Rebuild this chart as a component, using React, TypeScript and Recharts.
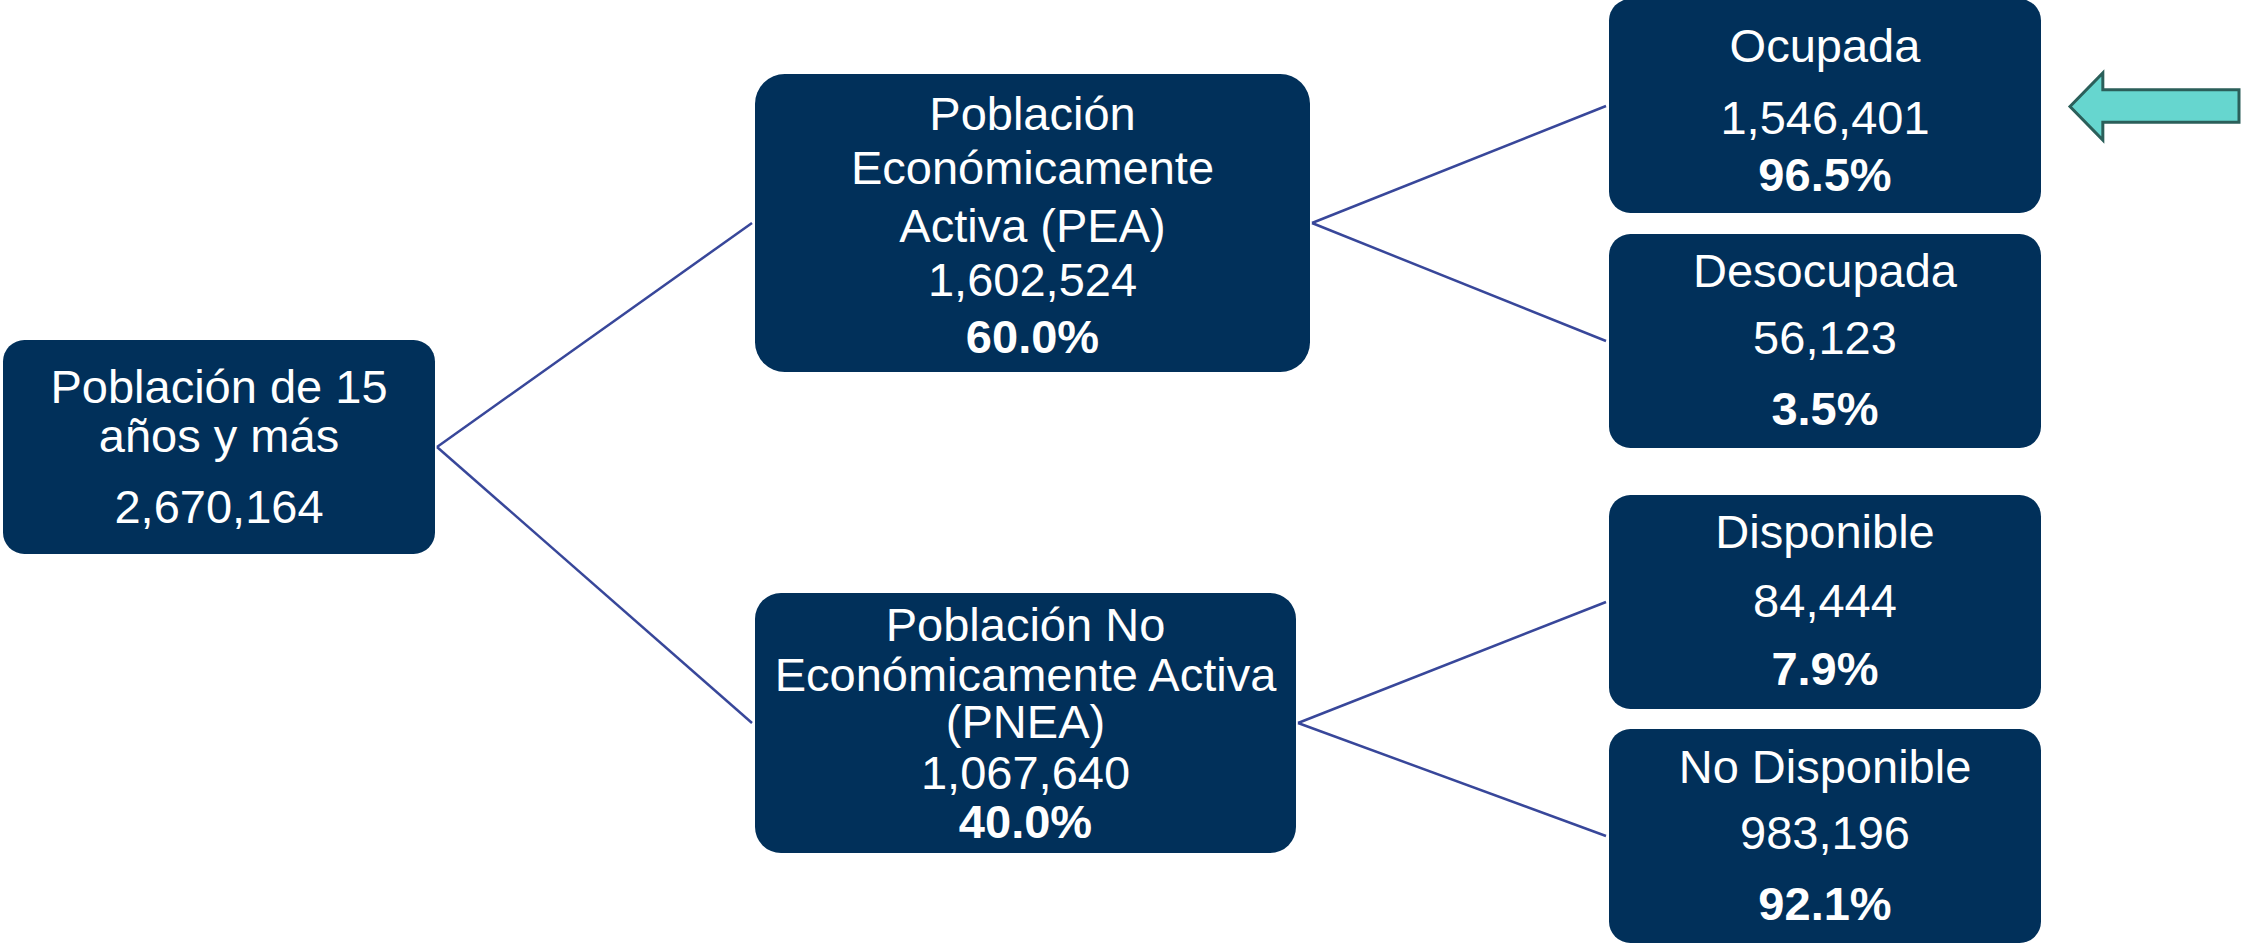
import React from 'react';
import { ScatterChart, Scatter, XAxis, YAxis, ReferenceLine, ReferenceArea } from 'recharts';

const W = 2243;
const H = 943;

// ---- data ----
const nodeTitles: string[][] = [
  ['Población de 15', 'años y más'],
  ['Población', 'Económicamente', 'Activa (PEA)'],
  ['Población No', 'Económicamente Activa', '(PNEA)'],
  ['Ocupada'],
  ['Desocupada'],
  ['Disponible'],
  ['No Disponible'],
];
const nodeValues: number[] = [2670164, 1602524, 1067640, 1546401, 56123, 84444, 983196];
const nodePercents: (number | null)[] = [null, 60.0, 40.0, 96.5, 3.5, 7.9, 92.1];
const edges: [number, number][] = [
  [0, 1],
  [0, 2],
  [1, 3],
  [1, 4],
  [2, 5],
  [2, 6],
];

// ---- layout (positions & styles only) ----
const boxLayout = [
  { x0: 3, y0: 340, x1: 435, y1: 554, lines: [46, 95, 166] },
  { x0: 755, y0: 74, x1: 1310, y1: 372, lines: [39, 93, 151, 205, 262] },
  { x0: 755, y0: 593, x1: 1296, y1: 853, lines: [31, 81, 128, 179, 228] },
  { x0: 1609, y0: -1, x1: 2041, y1: 213, lines: [46, 118, 175] },
  { x0: 1609, y0: 234, x1: 2041, y1: 448, lines: [36, 103, 174] },
  { x0: 1609, y0: 495, x1: 2041, y1: 709, lines: [36.5, 105, 173.5] },
  { x0: 1609, y0: 729, x1: 2041, y1: 943, lines: [37.5, 103.5, 174.5] },
];
const arrowBox = { x1: 2070, x2: 2239, y1: 73, y2: 140 };

const BOX_FILL = '#01305A';
const LINE_COLOR = '#38479A';
const FONT = '"Liberation Sans", Arial, Helvetica, sans-serif';
const FONT_SIZE = 47;
const CAP_HALF = FONT_SIZE * 0.716 / 2;

const nodePoints = boxLayout.map((b, i) => ({
  x: (b.x0 + b.x1) / 2,
  y: (b.y0 + b.y1) / 2,
  i,
}));

const fmt = (v: number) => v.toLocaleString('en-US');

const NodeShape = (props: any) => {
  const { cx, cy, payload } = props;
  const i = payload.i;
  const b = boxLayout[i];
  const w = b.x1 - b.x0;
  const h = b.y1 - b.y0;
  const top = cy - h / 2;
  const r = Math.min(w, h) * 0.1;
  const texts: { t: string; bold: boolean }[] = [
    ...nodeTitles[i].map((t) => ({ t, bold: false })),
    { t: fmt(nodeValues[i]), bold: false },
  ];
  const p = nodePercents[i];
  if (p !== null) texts.push({ t: `${p.toFixed(1)}%`, bold: true });
  return (
    <g>
      <rect x={cx - w / 2} y={top} width={w} height={h} rx={r} ry={r} fill={BOX_FILL} />
      {texts.map((tx, k) => (
        <text
          key={k}
          x={cx}
          y={top + b.lines[k] + CAP_HALF}
          textAnchor="middle"
          fill="#FFFFFF"
          fontFamily={FONT}
          fontSize={FONT_SIZE}
          fontWeight={tx.bold ? 700 : 400}
        >
          {tx.t}
        </text>
      ))}
    </g>
  );
};

const ArrowShape = (props: any) => {
  const x = Math.min(props.x, props.x + props.width);
  const y = Math.min(props.y, props.y + props.height);
  const w = Math.abs(props.width);
  const h = Math.abs(props.height);
  const head = h * 0.49;
  const shaftTop = y + h * 0.25;
  const shaftBot = y + h * 0.735;
  const pts = [
    [x, y + h / 2],
    [x + head, y],
    [x + head, shaftTop],
    [x + w, shaftTop],
    [x + w, shaftBot],
    [x + head, shaftBot],
    [x + head, y + h],
  ]
    .map((q) => q.join(','))
    .join(' ');
  return <polygon points={pts} fill="#66D6CF" stroke="#2B5F5A" strokeWidth={3} strokeLinejoin="miter" />;
};

export default function App() {
  return (
    <div style={{ position: 'absolute', left: 0, top: 0, width: W, height: H, background: '#FFFFFF' }}>
      <ScatterChart width={W} height={H} margin={{ top: 0, right: 0, bottom: 0, left: 0 }}>
        <XAxis type="number" dataKey="x" domain={[0, W]} hide allowDataOverflow />
        <YAxis type="number" dataKey="y" domain={[0, H]} reversed hide allowDataOverflow />
        {edges.map(([a, c], k) => {
          const pa = boxLayout[a];
          const pc = boxLayout[c];
          return (
            <ReferenceLine
              key={k}
              segment={[
                { x: pa.x1 + 2, y: (pa.y0 + pa.y1) / 2 },
                { x: pc.x0 - 3, y: (pc.y0 + pc.y1) / 2 },
              ]}
              stroke={LINE_COLOR}
              strokeWidth={2.5}
              ifOverflow="visible"
            />
          );
        })}
        <ReferenceArea
          x1={arrowBox.x1}
          x2={arrowBox.x2}
          y1={arrowBox.y1}
          y2={arrowBox.y2}
          ifOverflow="visible"
          shape={(p: any) => <ArrowShape {...p} />}
        />
        <Scatter
          data={nodePoints}
          isAnimationActive={false}
          shape={(p: any) => <NodeShape {...p} />}
        />
      </ScatterChart>
    </div>
  );
}
